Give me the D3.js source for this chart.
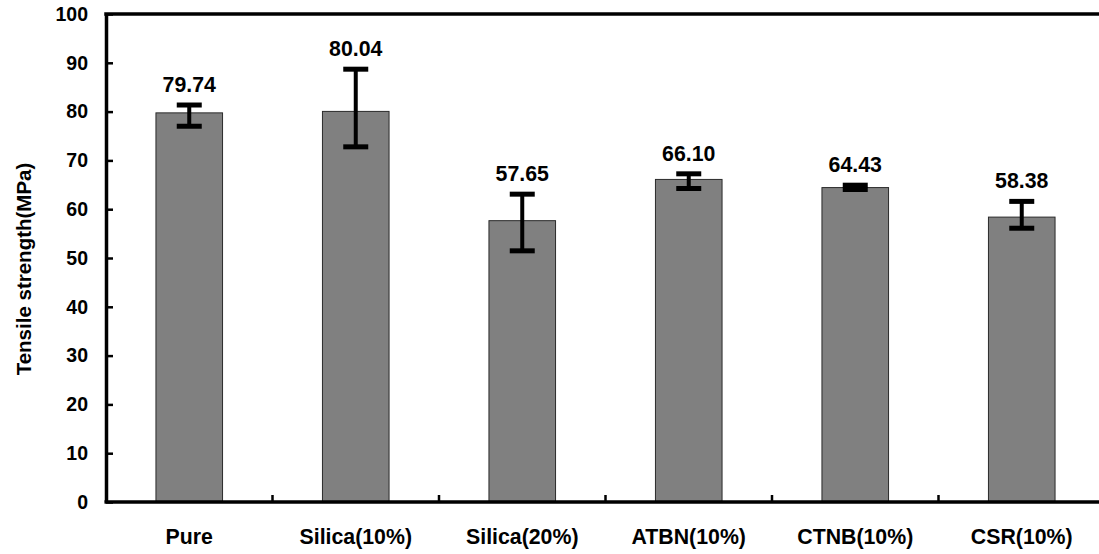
<!DOCTYPE html>
<html>
<head>
<meta charset="utf-8">
<script src="https://cdn.jsdelivr.net/npm/d3@7"></script>
<style>
  html, body { margin: 0; padding: 0; background: #fff; }
  svg { display: block; font-family: "Liberation Sans", Arial, sans-serif; font-weight: bold; }
</style>
</head>
<body>
<svg id="chart" width="1099" height="554"></svg>
<script>
const categories = ["Pure", "Silica(10%)", "Silica(20%)", "ATBN(10%)", "CTNB(10%)", "CSR(10%)"];
const values = [79.74, 80.04, 57.65, 66.10, 64.43, 58.38];
const errHigh = [81.35, 88.69, 63.08, 67.25, 64.92, 61.6];
const errLow = [77.0, 72.78, 51.47, 64.24, 64.04, 56.1];
const labels = ["79.74", "80.04", "57.65", "66.10", "64.43", "58.38"];
const yTicks = [0, 10, 20, 30, 40, 50, 60, 70, 80, 90, 100];
const yTitle = "Tensile strength(MPa)";

const svg = d3.select("#chart");
const mLeft = 106, mRight = 1105, mTop = 14, mBottom = 502;

const x = d3.scaleBand().domain(categories).range([mLeft, mRight]).paddingInner(0.6).paddingOuter(0.3);
const xb = d3.scaleBand().domain(categories).range([mLeft, mRight]);
const y = d3.scaleLinear().domain([0, 100]).range([mBottom, mTop]);

// bars
svg.append("g").selectAll("rect").data(categories).join("rect")
  .attr("x", d => x(d))
  .attr("width", x.bandwidth())
  .attr("y", (d, i) => y(values[i]))
  .attr("height", (d, i) => y(0) - y(values[i]))
  .attr("fill", "#808080")
  .attr("stroke", "#2a2a2a")
  .attr("stroke-width", 1);

// error bars
const eb = svg.append("g");
categories.forEach((c, i) => {
  const cx = xb(c) + xb.bandwidth() / 2;
  eb.append("line").attr("x1", cx).attr("x2", cx)
    .attr("y1", y(errHigh[i])).attr("y2", y(errLow[i]))
    .attr("stroke", "#000").attr("stroke-width", 4);
  [errHigh[i], errLow[i]].forEach(v => {
    eb.append("line").attr("x1", cx - 12.5).attr("x2", cx + 12.5)
      .attr("y1", y(v)).attr("y2", y(v))
      .attr("stroke", "#000").attr("stroke-width", 5);
  });
  svg.append("text")
    .attr("x", cx).attr("y", y(errHigh[i]) - 13)
    .attr("text-anchor", "middle")
    .attr("font-size", "21.3px")
    .attr("fill", "#000")
    .text(labels[i]);
});

// y axis
const yAxis = d3.axisLeft(y).tickValues(yTicks).tickSize(-7).tickPadding(25).tickSizeOuter(0);
const gy = svg.append("g").attr("transform", `translate(${mLeft},0)`).call(yAxis);
gy.select(".domain").attr("stroke", "#000").attr("stroke-width", 3.5);
gy.selectAll(".tick line").attr("stroke", "#000").attr("stroke-width", 2.5);
gy.selectAll(".tick text").attr("font-size", "19.5px").attr("font-family", "Liberation Sans, Arial, sans-serif")
  .attr("font-weight", "bold").attr("fill", "#000").attr("x", -18);

// x axis
svg.append("line").attr("x1", mLeft - 1.5).attr("x2", 1099).attr("y1", mBottom).attr("y2", mBottom)
  .attr("stroke", "#000").attr("stroke-width", 3.5);
svg.append("g").selectAll("line").data(categories.slice(1)).join("line")
  .attr("x1", d => xb(d)).attr("x2", d => xb(d))
  .attr("y1", mBottom).attr("y2", mBottom - 7)
  .attr("stroke", "#000").attr("stroke-width", 2.5);
svg.append("g").selectAll("text").data(categories).join("text")
  .attr("x", d => xb(d) + xb.bandwidth() / 2)
  .attr("y", 544)
  .attr("text-anchor", "middle")
  .attr("font-size", "21.3px")
  .attr("fill", "#000")
  .text(d => d);

// top border
svg.append("line").attr("x1", mLeft - 1.75).attr("x2", 1099).attr("y1", mTop).attr("y2", mTop)
  .attr("stroke", "#000").attr("stroke-width", 3.5);

// y title
svg.append("text")
  .attr("transform", "translate(31,269) rotate(-90)")
  .attr("text-anchor", "middle")
  .attr("font-size", "20.5px")
  .attr("fill", "#000")
  .text(yTitle);
</script>
</body>
</html>
